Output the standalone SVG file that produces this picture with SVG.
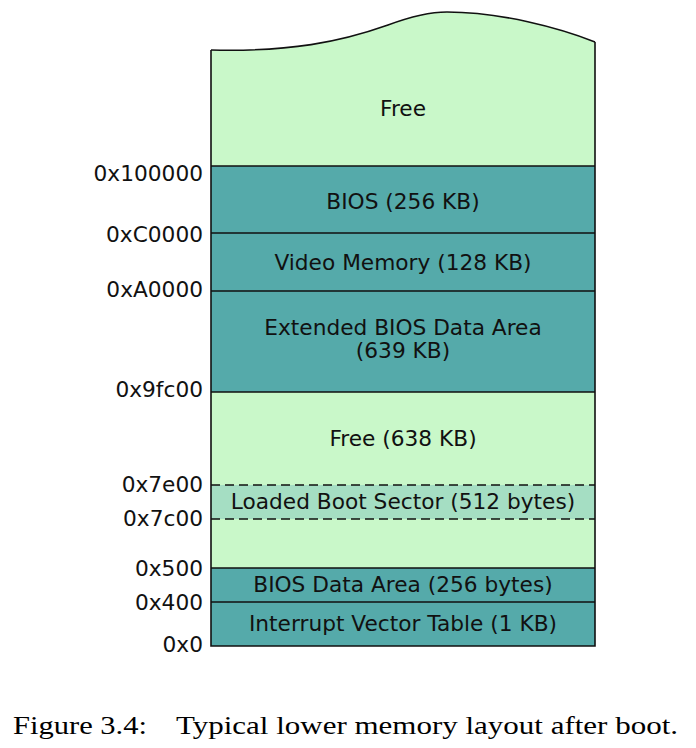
<svg xmlns="http://www.w3.org/2000/svg" width="696" height="748" viewBox="0 0 696 748">
<style>
.lbl{font-family:"DejaVu Sans",sans-serif;font-size:21.7px;fill:#111;}
.addr{font-family:"DejaVu Sans",sans-serif;font-size:21.7px;fill:#111;text-anchor:end;}
.mid{text-anchor:middle;}
.free{fill:#c9f8c9;}
.bios{fill:#55aaaa;}
.boot{fill:#a5dec3;}
.edge{stroke:#111;stroke-width:1.6;fill:none;}
.dash{stroke:#111;stroke-width:1.6;fill:none;stroke-dasharray:9 5;}
.cap{font-family:"Liberation Serif","Times New Roman",serif;font-size:26px;fill:#000;}
</style>
<rect width="696" height="748" fill="#fff"/>
<g id="free-top">
<path class="free" d="M211,50 C290,52 340,42 388,25 C415,15 432,12 447,12 C500,12 560,28 595,42 L595,166 L211,166 Z"/>
<text class="lbl mid" x="403" y="116">Free</text>
</g>
<g id="bios">
<rect class="bios" x="211" y="166" width="384" height="67"/>
<text class="lbl mid" x="403" y="209">BIOS (256 KB)</text>
</g>
<g id="video">
<rect class="bios" x="211" y="233" width="384" height="58"/>
<text class="lbl mid" x="403" y="270">Video Memory (128 KB)</text>
</g>
<g id="ebda">
<rect class="bios" x="211" y="291" width="384" height="101"/>
<text class="lbl mid" x="403" y="335">Extended BIOS Data Area</text>
<text class="lbl mid" x="403" y="358">(639 KB)</text>
</g>
<g id="free-low">
<rect class="free" x="211" y="392" width="384" height="176"/>
<text class="lbl mid" x="403" y="446">Free (638 KB)</text>
</g>
<g id="boot-sector">
<rect class="boot" x="211" y="485" width="384" height="34"/>
<text class="lbl mid" x="403" y="509">Loaded Boot Sector (512 bytes)</text>
</g>
<g id="bda">
<rect class="bios" x="211" y="568" width="384" height="34"/>
<text class="lbl mid" x="403" y="592">BIOS Data Area (256 bytes)</text>
</g>
<g id="ivt">
<rect class="bios" x="211" y="602" width="384" height="44"/>
<text class="lbl mid" x="403" y="631">Interrupt Vector Table (1 KB)</text>
</g>
<g id="connectors">
<path class="edge" d="M211,50 C290,52 340,42 388,25 C415,15 432,12 447,12 C500,12 560,28 595,42"/>
<path class="edge" d="M211,50 L211,646 L595,646 L595,42"/>
<path class="edge" d="M211,166 H595 M211,233 H595 M211,291 H595 M211,392 H595 M211,568 H595 M211,602 H595"/>
<path class="dash" d="M211,485 H595 M211,519 H595"/>
</g>
<g id="addresses">
<text class="addr" x="203" y="181">0x100000</text>
<text class="addr" x="203" y="242">0xC0000</text>
<text class="addr" x="203" y="297">0xA0000</text>
<text class="addr" x="203" y="397">0x9fc00</text>
<text class="addr" x="203" y="492">0x7e00</text>
<text class="addr" x="203" y="526">0x7c00</text>
<text class="addr" x="203" y="576">0x500</text>
<text class="addr" x="203" y="610">0x400</text>
<text class="addr" x="203" y="652">0x0</text>
</g>
<g id="caption">
<text class="cap" x="13" y="734" textLength="134" lengthAdjust="spacingAndGlyphs">Figure 3.4:</text>
<text class="cap" x="176" y="734" textLength="502" lengthAdjust="spacingAndGlyphs">Typical lower memory layout after boot.</text>
</g>
</svg>
